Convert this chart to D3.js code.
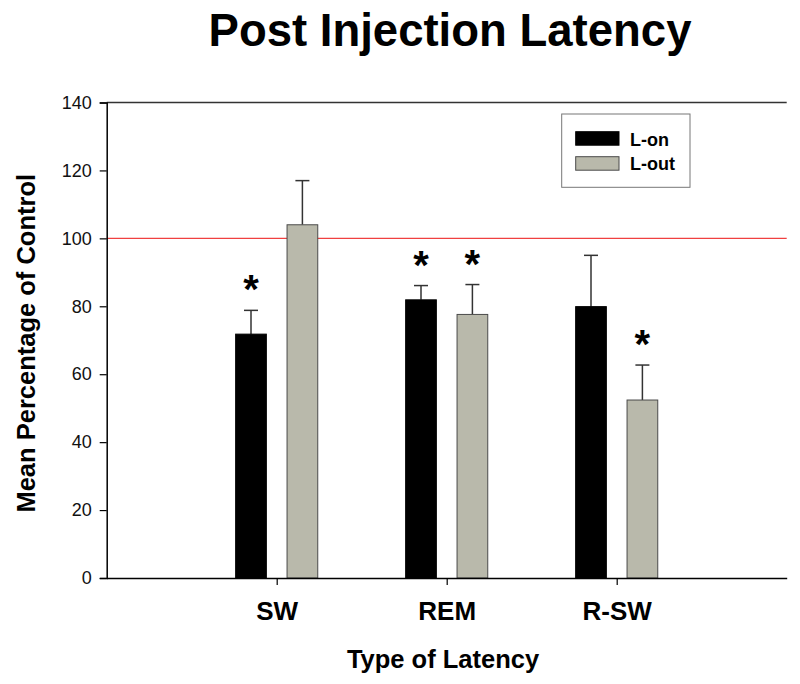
<!DOCTYPE html>
<html>
<head>
<meta charset="utf-8">
<script src="https://cdn.jsdelivr.net/npm/d3@7"></script>
<style>
body { margin: 0; background: #fff; }
text { font-family: Arial, "Liberation Sans", sans-serif; }
</style>
</head>
<body>
<svg id="chart" width="800" height="684"></svg>
<script>
const categories = ["SW", "REM", "R-SW"];
const seriesNames = ["L-on", "L-out"];
const lonValues = [71.8, 81.9, 79.9];
const lonErrors = [7.0, 4.2, 15.1];
const loutValues = [104.0, 77.6, 52.4];
const loutErrors = [13.0, 8.8, 10.3];
const lonSignificant = [true, true, false];
const loutSignificant = [false, true, true];
const yTicks = [0, 20, 40, 60, 80, 100, 120, 140];
const referenceLine = 100;

const svg = d3.select("#chart");
const pLeft = 106.7, pRight = 786.7, pTop = 102.5, pBottom = 578;

const x = d3.scaleLinear().domain([0, 4]).range([pLeft, pRight]);
const y = d3.scaleLinear().domain([0, 140]).range([pBottom, pTop]);

const barW = 30.7, offset = 25.7;
const colors = ["#000000", "#b9b9ab"];
const strokes = ["#000000", "#4a4a4a"];

// title
svg.append("text").attr("x", 450).attr("y", 46).attr("text-anchor", "middle")
  .attr("font-size", 45.5).attr("font-weight", "bold").text("Post Injection Latency");

// top frame line
svg.append("line").attr("x1", pLeft).attr("x2", pRight).attr("y1", pTop).attr("y2", pTop)
  .attr("stroke", "#333").attr("stroke-width", 1.5);

// reference line
svg.append("line").attr("x1", pLeft).attr("x2", pRight)
  .attr("y1", y(referenceLine)).attr("y2", y(referenceLine))
  .attr("stroke", "#f04040").attr("stroke-width", 1.2);

const data = [];
categories.forEach((c, i) => {
  data.push({cat: c, s: 0, v: lonValues[i], e: lonErrors[i], sig: lonSignificant[i], idx: i});
  data.push({cat: c, s: 1, v: loutValues[i], e: loutErrors[i], sig: loutSignificant[i], idx: i});
});
const cx = d => x(d.idx + 1) + (d.s === 0 ? -offset : offset);

// error bars
const eg = svg.append("g").attr("stroke", "#333").attr("stroke-width", 1.5);
data.forEach(d => {
  eg.append("line").attr("x1", cx(d)).attr("x2", cx(d)).attr("y1", y(d.v)).attr("y2", y(d.v + d.e));
  eg.append("line").attr("x1", cx(d) - 7).attr("x2", cx(d) + 7).attr("y1", y(d.v + d.e)).attr("y2", y(d.v + d.e));
});

// bars
svg.append("g").selectAll("rect").data(data).join("rect")
  .attr("x", d => cx(d) - barW / 2).attr("width", barW)
  .attr("y", d => y(d.v)).attr("height", d => y(0) - y(d.v))
  .attr("fill", d => colors[d.s]).attr("stroke", d => strokes[d.s]).attr("stroke-width", 1);

// significance stars
svg.append("g").selectAll("text").data(data.filter(d => d.sig)).join("text")
  .attr("x", cx).attr("y", d => y(d.v + d.e) - 29 + 22)
  .attr("text-anchor", "middle").attr("font-size", 40).attr("font-weight", "bold")
  .text("*");

// y axis
const yAxis = d3.axisLeft(y).tickValues(yTicks).tickSize(7).tickPadding(8);
const gy = svg.append("g").attr("transform", `translate(${pLeft},0)`).call(yAxis);
gy.selectAll("text").attr("font-size", 18).attr("fill", "#111");
gy.select(".domain").attr("stroke", "#000").attr("stroke-width", 1.5);
gy.selectAll(".tick line").attr("stroke", "#000").attr("stroke-width", 1.2);

// x axis
const xAxis = d3.axisBottom(x).tickValues([1, 2, 3]).tickFormat(d => categories[d - 1])
  .tickSize(7).tickSizeOuter(0).tickPadding(17);
const gx = svg.append("g").attr("transform", `translate(0,${pBottom})`).call(xAxis);
gx.selectAll("text").attr("font-size", 26).attr("font-weight", "bold").attr("fill", "#000");
gx.select(".domain").attr("stroke", "#000").attr("stroke-width", 1.5);
gx.selectAll(".tick line").attr("stroke", "#000").attr("stroke-width", 1.2);

// axis titles
svg.append("text").attr("x", 443).attr("y", 668).attr("text-anchor", "middle")
  .attr("font-size", 25.5).attr("font-weight", "bold").text("Type of Latency");
svg.append("text").attr("transform", `translate(35,${(pTop + pBottom) / 2 + 3}) rotate(-90)`)
  .attr("text-anchor", "middle").attr("font-size", 25.5).attr("font-weight", "bold")
  .text("Mean Percentage of Control");

// legend
const lg = svg.append("g");
lg.append("rect").attr("x", 561.7).attr("y", 114).attr("width", 128.3).attr("height", 73.3)
  .attr("fill", "#fff").attr("stroke", "#777").attr("stroke-width", 1);
seriesNames.forEach((n, i) => {
  const yy = 131.7 + i * 25;
  lg.append("rect").attr("x", 575.7).attr("y", yy).attr("width", 43.3).attr("height", 13.5)
    .attr("fill", colors[i]).attr("stroke", strokes[i]).attr("stroke-width", 1);
  lg.append("text").attr("x", 630).attr("y", 146 + i * 23.8).attr("font-size", 18)
    .attr("font-weight", "bold").text(n);
});
</script>
</body>
</html>
